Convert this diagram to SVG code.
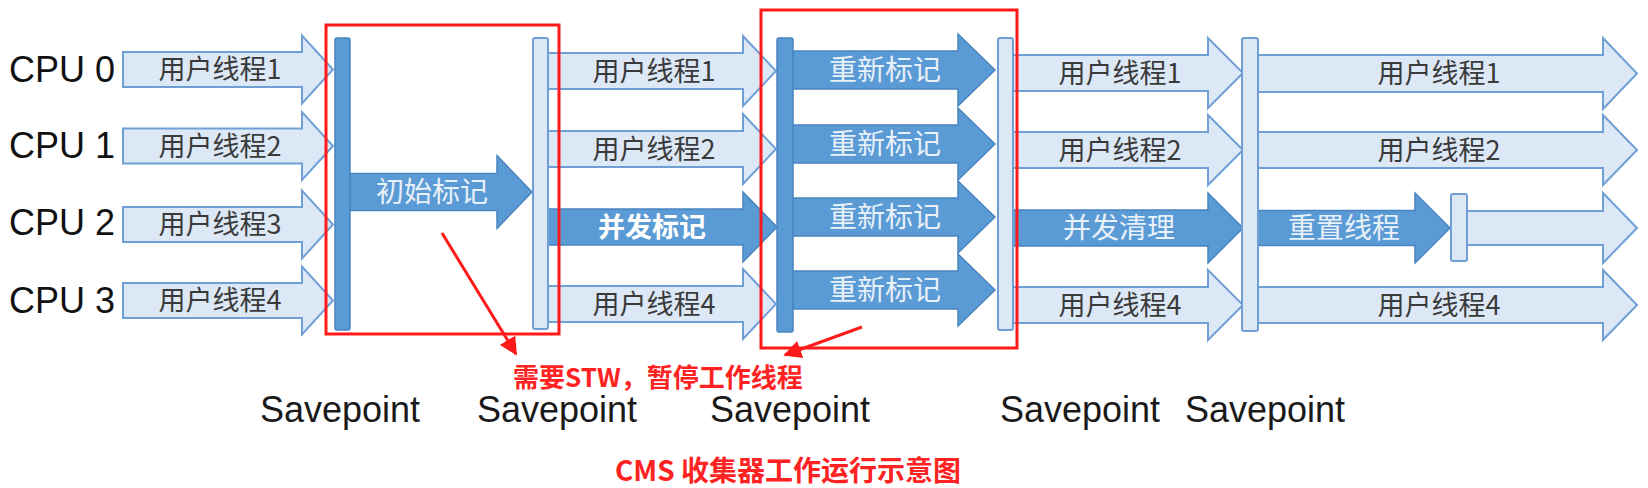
<svg xmlns="http://www.w3.org/2000/svg" width="1648" height="488" viewBox="0 0 1648 488">
<style>
.cpu{font-family:"Liberation Sans",Arial,sans-serif;font-size:36px;fill:#111}
.sp{font-family:"Liberation Sans",Arial,sans-serif;font-size:36px;fill:#1a1a1a}
.la{fill:#dce8f5;stroke:#6f9fd5;stroke-width:2;stroke-linejoin:miter}
.da{fill:#5b9bd5;stroke:#4a85c0;stroke-width:1.5}
.lb{fill:#dce8f5;stroke:#6f9fd5;stroke-width:2}
.db{fill:#5b9bd5;stroke:#4a85c0;stroke-width:1.5}
.lt{font-family:"Noto Sans CJK SC","Noto Sans",sans-serif;font-size:27px;fill:#3a3a3a;text-anchor:middle}
.dt{font-family:"Noto Sans CJK SC","Noto Sans",sans-serif;font-size:28px;fill:#e8f0f9;text-anchor:middle}
.dtb{font-family:"Noto Sans CJK SC","Noto Sans",sans-serif;font-size:27px;font-weight:bold;fill:#ffffff;text-anchor:middle}
.rb{fill:none;stroke:#ff1a1a;stroke-width:3}
.rt{font-family:"Noto Sans CJK SC","Noto Sans",sans-serif;font-weight:bold;fill:#ff2222}
.rl{stroke:#ff1a1a;stroke-width:3;fill:none}
</style>
<defs>
<marker id="ah" viewBox="0 0 10 10" refX="9" refY="5" markerWidth="6" markerHeight="6" markerUnits="strokeWidth" orient="auto">
<path d="M0,0 L10,5 L0,10 z" fill="#ff1a1a"/>
</marker>
</defs>

<g id="cpu-labels">
<text class="cpu" x="9" y="82">CPU 0</text>
<text class="cpu" x="9" y="158">CPU 1</text>
<text class="cpu" x="9" y="235">CPU 2</text>
<text class="cpu" x="9" y="313">CPU 3</text>
</g>

<g id="col1">
<g id="c1r0"><polygon class="la" points="123,52 302,52 302,35.5 333,69.5 302,103.5 302,87 123,87"/><text class="lt" x="220" y="79">用户线程1</text></g>
<g id="c1r1"><polygon class="la" points="123,128.5 302,128.5 302,112 333,146 302,180 302,163.5 123,163.5"/><text class="lt" x="220" y="155.5">用户线程2</text></g>
<g id="c1r2"><polygon class="la" points="123,207 302,207 302,190.5 333,224.5 302,258.5 302,242 123,242"/><text class="lt" x="220" y="234">用户线程3</text></g>
<g id="c1r3"><polygon class="la" points="123,283 302,283 302,266.5 333,300.5 302,334.5 302,318 123,318"/><text class="lt" x="220" y="310">用户线程4</text></g>
</g>

<g id="initial-mark"><polygon class="da" points="350,173.5 497,173.5 497,155.5 532,192 497,228.5 497,210.5 350,210.5"/><text class="dt" x="432" y="202">初始标记</text></g>

<g id="col2">
<g id="c2r0"><polygon class="la" points="548,53 743,53 743,36 776,71 743,106 743,89 548,89"/><text class="lt" x="654" y="80.5">用户线程1</text></g>
<g id="c2r1"><polygon class="la" points="548,131 743,131 743,114 776,149 743,184 743,167 548,167"/><text class="lt" x="654" y="158.5">用户线程2</text></g>
<g id="c2r2"><polygon class="da" points="548,209 743,209 743,192 777,227 743,262 743,245 548,245"/><text class="dtb" x="652" y="236.5">并发标记</text></g>
<g id="c2r3"><polygon class="la" points="548,286 743,286 743,269 776,304 743,339 743,322 548,322"/><text class="lt" x="654" y="313.5">用户线程4</text></g>
</g>

<g id="remark">
<g id="rm0"><polygon class="da" points="793,51 958,51 958,34 995,70 958,106 958,89 793,89"/><text class="dt" x="885" y="80">重新标记</text></g>
<g id="rm1"><polygon class="da" points="793,125 958,125 958,108 995,144 958,180 958,163 793,163"/><text class="dt" x="885" y="154">重新标记</text></g>
<g id="rm2"><polygon class="da" points="793,198 958,198 958,181 995,217 958,253 958,236 793,236"/><text class="dt" x="885" y="227">重新标记</text></g>
<g id="rm3"><polygon class="da" points="793,271 958,271 958,254 995,290 958,326 958,309 793,309"/><text class="dt" x="885" y="300">重新标记</text></g>
</g>

<g id="col3">
<g id="c3r0"><polygon class="la" points="1013,55 1208,55 1208,38 1243,73 1208,108 1208,91 1013,91"/><text class="lt" x="1120" y="82.5">用户线程1</text></g>
<g id="c3r1"><polygon class="la" points="1013,132 1208,132 1208,115 1243,150 1208,185 1208,168 1013,168"/><text class="lt" x="1120" y="159.5">用户线程2</text></g>
<g id="c3r2"><polygon class="da" points="1013,210 1208,210 1208,193 1243,228 1208,263 1208,246 1013,246"/><text class="dt" x="1119" y="238">并发清理</text></g>
<g id="c3r3"><polygon class="la" points="1013,287 1208,287 1208,270 1243,305 1208,340 1208,323 1013,323"/><text class="lt" x="1120" y="314.5">用户线程4</text></g>
</g>

<g id="col4">
<g id="c4r0"><polygon class="la" points="1258,55 1603,55 1603,38 1637,73.5 1603,109 1603,92 1258,92"/><text class="lt" x="1439" y="83">用户线程1</text></g>
<g id="c4r1"><polygon class="la" points="1258,132 1603,132 1603,115 1637,150 1603,185 1603,168 1258,168"/><text class="lt" x="1439" y="159.5">用户线程2</text></g>
<g id="c4r2a"><polygon class="da" points="1258,210.5 1415,210.5 1415,193 1450,228 1415,263 1415,245.5 1258,245.5"/><text class="dt" x="1344" y="238">重置线程</text></g>
<g id="c4r2b"><polygon class="la" points="1467,211 1603,211 1603,193 1637,228 1603,263 1603,245 1467,245"/></g>
<g id="c4r3"><polygon class="la" points="1258,287 1603,287 1603,270 1637,305 1603,340 1603,323 1258,323"/><text class="lt" x="1439" y="314.5">用户线程4</text></g>
</g>

<g id="bars">
<rect id="bar1" class="db" x="335" y="38" width="15" height="292" rx="2"/>
<rect id="bar2" class="lb" x="533" y="38" width="15" height="291" rx="2"/>
<rect id="bar3" class="db" x="777" y="38" width="16" height="294" rx="2"/>
<rect id="bar4" class="lb" x="998" y="38" width="15" height="292" rx="2"/>
<rect id="bar5" class="lb" x="1242" y="38" width="16" height="293" rx="2"/>
<rect id="bar6" class="lb" x="1451" y="194" width="16" height="67" rx="2"/>
</g>

<g id="stw-boxes">
<rect id="box1" class="rb" x="326" y="25" width="233" height="309"/>
<rect id="box2" class="rb" x="761" y="10" width="256" height="338"/>
</g>

<g id="connectors">
<line class="rl" x1="442" y1="233" x2="516" y2="354" marker-end="url(#ah)"/>
<line class="rl" x1="862" y1="327" x2="785" y2="355" marker-end="url(#ah)"/>
</g>

<g id="note"><text class="rt" x="513" y="387" font-size="26">需要STW，暂停工作线程</text></g>

<g id="savepoints">
<text class="sp" x="260" y="422">Savepoint</text>
<text class="sp" x="477" y="422">Savepoint</text>
<text class="sp" x="710" y="422">Savepoint</text>
<text class="sp" x="1000" y="422">Savepoint</text>
<text class="sp" x="1185" y="422">Savepoint</text>
</g>

<g id="caption"><text class="rt" x="615" y="481" font-size="28">CMS 收集器工作运行示意图</text></g>
</svg>
